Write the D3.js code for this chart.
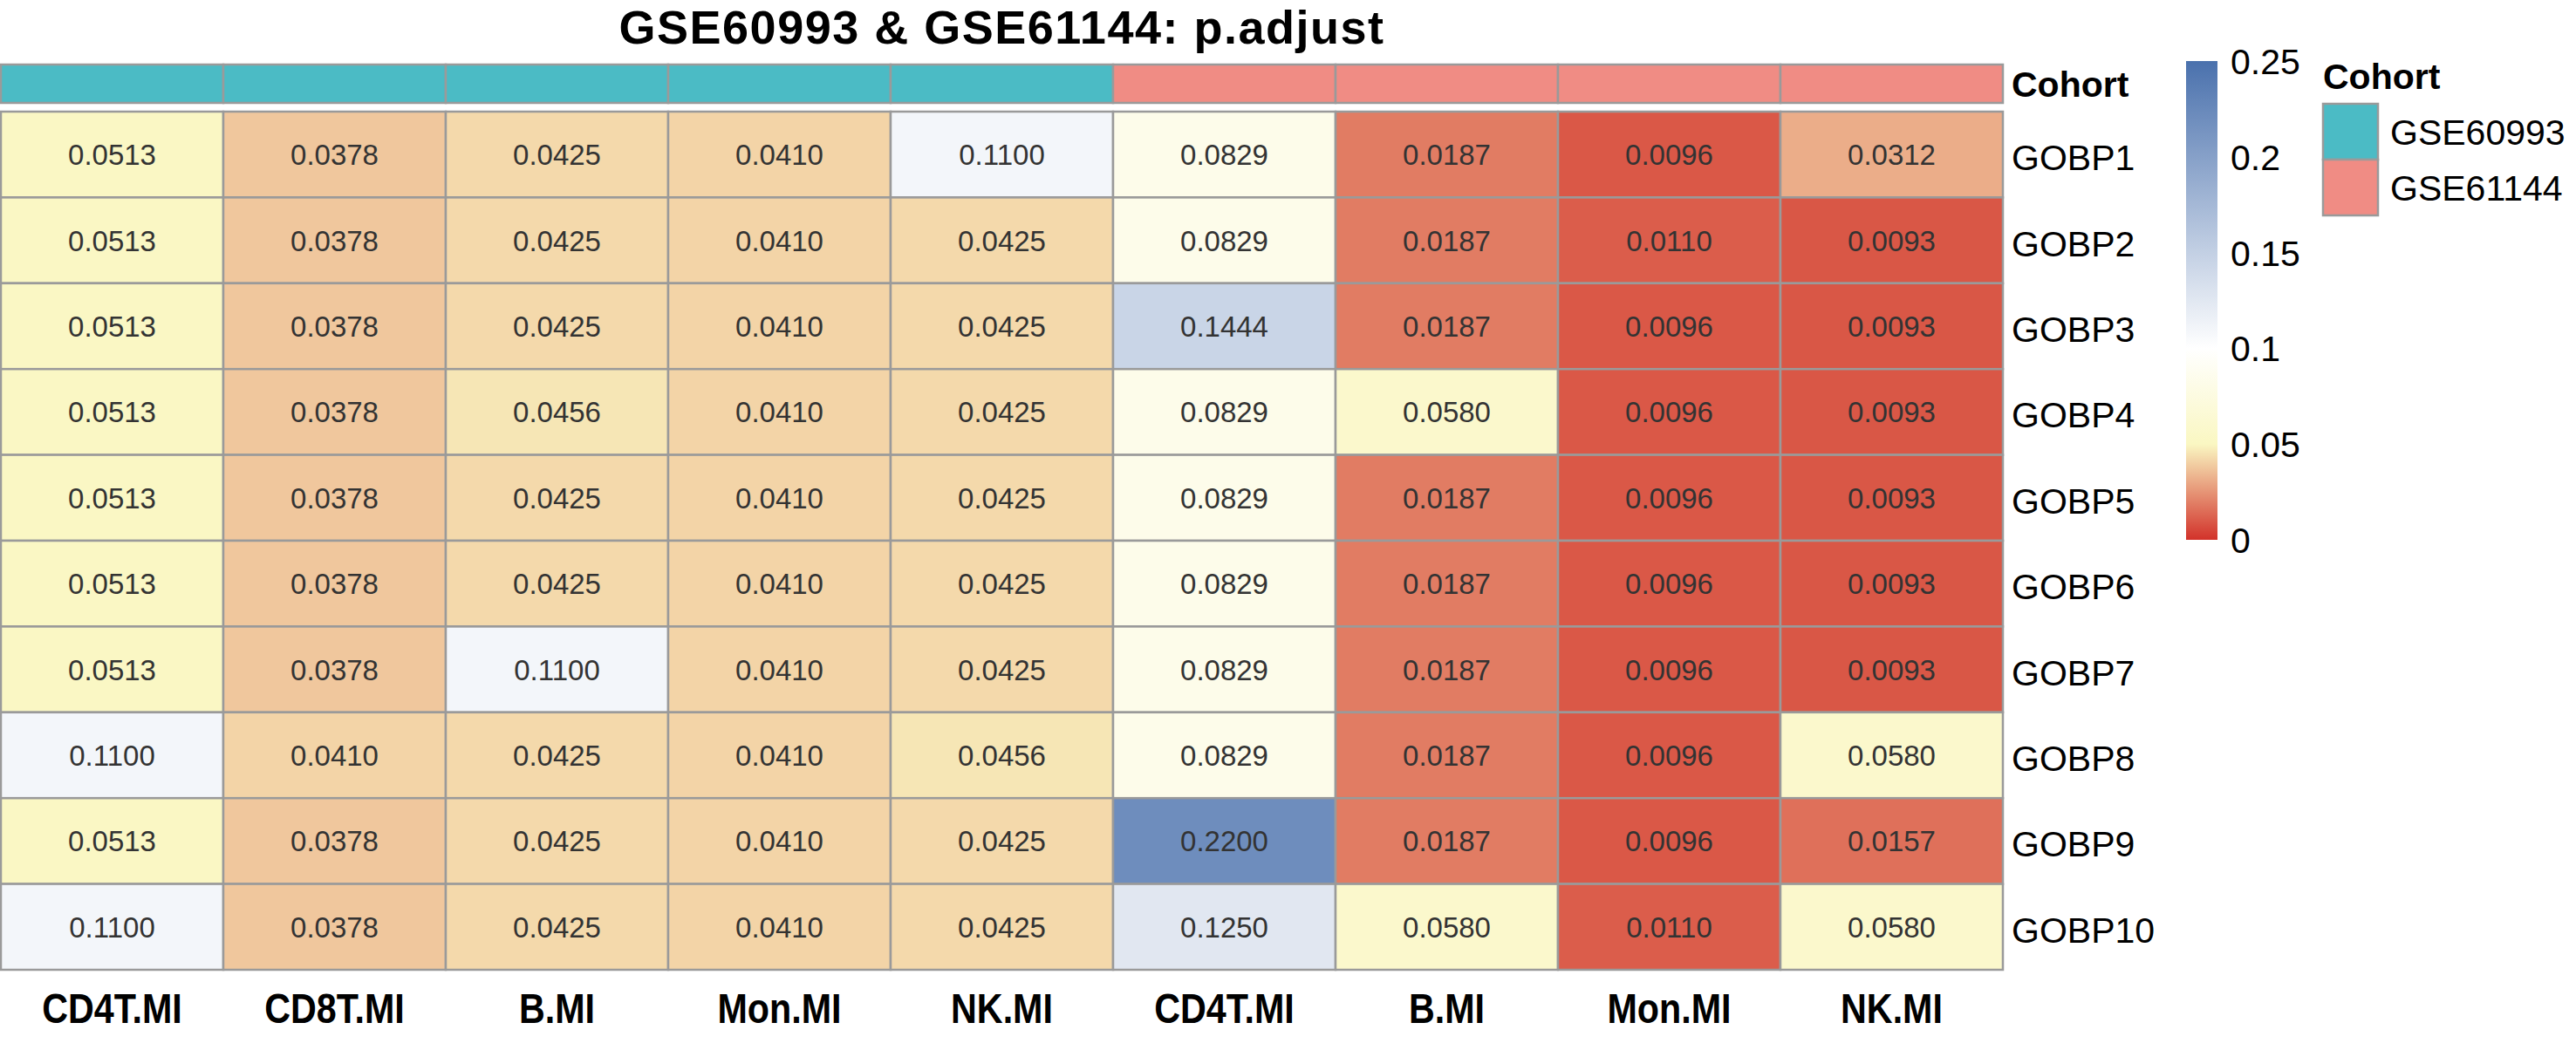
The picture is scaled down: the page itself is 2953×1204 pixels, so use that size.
<!DOCTYPE html>
<html>
<head>
<meta charset="utf-8">
<script src="https://cdn.jsdelivr.net/npm/d3@7"></script>
<style>
  body { margin: 0; background: #fff; }
  text { font-family: "Liberation Sans", Arial, sans-serif; }
</style>
</head>
<body>
<script>
const title = 'GSE60993 & GSE61144: p.adjust';
const columns = ['CD4T.MI', 'CD8T.MI', 'B.MI', 'Mon.MI', 'NK.MI', 'CD4T.MI', 'B.MI', 'Mon.MI', 'NK.MI'];
const columnCohort = ['GSE60993', 'GSE60993', 'GSE60993', 'GSE60993', 'GSE60993',
  'GSE61144', 'GSE61144', 'GSE61144', 'GSE61144'];
const cohorts = ['GSE60993', 'GSE61144'];
const cohortColors = ['#4bbbc5', '#f08c84'];
const rows = ['GOBP1', 'GOBP2', 'GOBP3', 'GOBP4', 'GOBP5', 'GOBP6', 'GOBP7', 'GOBP8', 'GOBP9', 'GOBP10'];
const pAdjust = [
  [0.0513, 0.0378, 0.0425, 0.0410, 0.1100, 0.0829, 0.0187, 0.0096, 0.0312],
  [0.0513, 0.0378, 0.0425, 0.0410, 0.0425, 0.0829, 0.0187, 0.0110, 0.0093],
  [0.0513, 0.0378, 0.0425, 0.0410, 0.0425, 0.1444, 0.0187, 0.0096, 0.0093],
  [0.0513, 0.0378, 0.0456, 0.0410, 0.0425, 0.0829, 0.0580, 0.0096, 0.0093],
  [0.0513, 0.0378, 0.0425, 0.0410, 0.0425, 0.0829, 0.0187, 0.0096, 0.0093],
  [0.0513, 0.0378, 0.0425, 0.0410, 0.0425, 0.0829, 0.0187, 0.0096, 0.0093],
  [0.0513, 0.0378, 0.1100, 0.0410, 0.0425, 0.0829, 0.0187, 0.0096, 0.0093],
  [0.1100, 0.0410, 0.0425, 0.0410, 0.0456, 0.0829, 0.0187, 0.0096, 0.0580],
  [0.0513, 0.0378, 0.0425, 0.0410, 0.0425, 0.2200, 0.0187, 0.0096, 0.0157],
  [0.1100, 0.0378, 0.0425, 0.0410, 0.0425, 0.1250, 0.0580, 0.0110, 0.0580],
];
const legendTicks = [0, 0.05, 0.1, 0.15, 0.2, 0.25];
const colorStops = [0, 0.05, 0.1, 0.25];
const colorRange = ['#d2322a', '#faf7c2', '#ffffff', '#4a71ad'];

function main() {
  const width = 2953;
  const height = 1204;
  const svg = d3.select('body').append('svg')
    .attr('width', width)
    .attr('height', height);

  const left = 1;
  const right = 2296;
  const top = 128;
  const bottom = 1112;
  const gridStroke = '#9a9a9a';

  const x = d3.scaleBand().domain(d3.range(columns.length)).range([left, right]);
  const y = d3.scaleBand().domain(d3.range(rows.length)).range([top, bottom]);
  const color = d3.scaleLinear().domain(colorStops).range(colorRange).clamp(true);
  const cohortColor = d3.scaleOrdinal().domain(cohorts).range(cohortColors);

  // title
  svg.append('text')
    .attr('x', (left + right) / 2)
    .attr('y', 50)
    .attr('text-anchor', 'middle')
    .attr('font-weight', 'bold')
    .attr('font-size', 54)
    .attr('letter-spacing', 1.5)
    .text(title);

  // annotation bar
  svg.append('g')
    .selectAll('rect')
    .data(columnCohort)
    .enter()
    .append('rect')
    .attr('x', (d, i) => x(i))
    .attr('y', 74)
    .attr('width', x.bandwidth())
    .attr('height', 44)
    .attr('fill', d => cohortColor(d))
    .attr('stroke', gridStroke)
    .attr('stroke-width', 2.5);

  svg.append('text')
    .attr('x', 2306)
    .attr('y', 111)
    .attr('font-weight', 'bold')
    .attr('font-size', 41)
    .text('Cohort');

  // cells
  const cells = [];
  pAdjust.forEach((row, r) => row.forEach((v, c) => cells.push({ r, c, v })));

  svg.append('g')
    .selectAll('rect')
    .data(cells)
    .enter()
    .append('rect')
    .attr('x', d => x(d.c))
    .attr('y', d => y(d.r))
    .attr('width', x.bandwidth())
    .attr('height', y.bandwidth())
    .attr('fill', d => color(d.v))
    .attr('stroke', gridStroke)
    .attr('stroke-width', 2.5);

  svg.append('g')
    .selectAll('text')
    .data(cells)
    .enter()
    .append('text')
    .attr('x', d => x(d.c) + x.bandwidth() / 2)
    .attr('y', d => y(d.r) + y.bandwidth() / 2 + 12)
    .attr('text-anchor', 'middle')
    .attr('font-size', 33)
    .attr('fill', '#333')
    .text(d => d.v.toFixed(4));

  // row labels
  svg.append('g')
    .selectAll('text')
    .data(rows)
    .enter()
    .append('text')
    .attr('x', 2306)
    .attr('y', (d, i) => y(i) + y.bandwidth() / 2 + 18)
    .attr('font-size', 41)
    .text(d => d);

  // column labels (narrow bold)
  svg.append('g')
    .selectAll('text')
    .data(columns)
    .enter()
    .append('text')
    .attr('transform', (d, i) => `translate(${x(i) + x.bandwidth() / 2},1173) scale(0.86,1)`)
    .attr('text-anchor', 'middle')
    .attr('font-weight', 'bold')
    .attr('font-size', 48)
    .text(d => d);

  // colour legend
  const ly = d3.scaleLinear().domain([0, 0.25]).range([619, 70]);
  const grad = svg.append('defs').append('linearGradient')
    .attr('id', 'pgrad')
    .attr('x1', 0).attr('y1', 1).attr('x2', 0).attr('y2', 0);
  grad.selectAll('stop')
    .data(colorStops)
    .enter()
    .append('stop')
    .attr('offset', d => d / 0.25)
    .attr('stop-color', d => color(d));

  svg.append('rect')
    .attr('x', 2506)
    .attr('y', ly(0.25))
    .attr('width', 36)
    .attr('height', ly(0) - ly(0.25))
    .attr('fill', 'url(#pgrad)');

  svg.append('g')
    .selectAll('text')
    .data(legendTicks)
    .enter()
    .append('text')
    .attr('x', 2557)
    .attr('y', d => ly(d) + 15)
    .attr('font-size', 41)
    .text(d => d3.format('~g')(d));

  // cohort legend
  svg.append('text')
    .attr('x', 2663)
    .attr('y', 102)
    .attr('font-weight', 'bold')
    .attr('font-size', 41)
    .text('Cohort');

  const lg = svg.append('g')
    .selectAll('g')
    .data(cohorts)
    .enter()
    .append('g')
    .attr('transform', (d, i) => `translate(2663,${119 + i * 64})`);

  lg.append('rect')
    .attr('width', 63)
    .attr('height', 64)
    .attr('fill', d => cohortColor(d))
    .attr('stroke', gridStroke)
    .attr('stroke-width', 2.5);

  lg.append('text')
    .attr('x', 77)
    .attr('y', 47)
    .attr('font-size', 41)
    .text(d => d);
}

main();
</script>
</body>
</html>
